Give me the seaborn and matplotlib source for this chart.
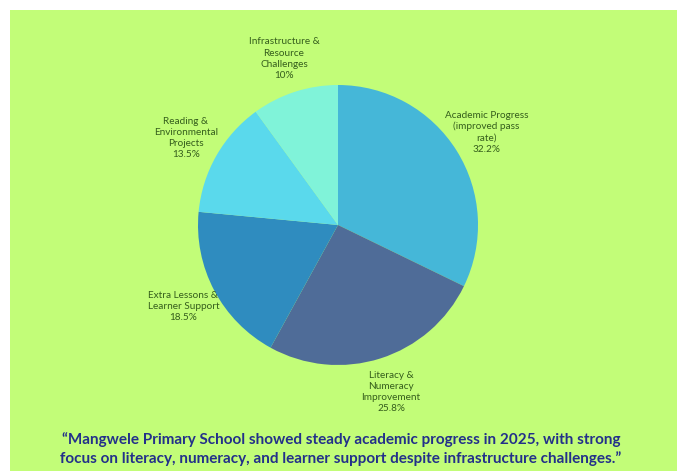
import matplotlib
matplotlib.use("Agg")
import matplotlib.pyplot as plt
import seaborn as sns
from matplotlib.patches import Rectangle

categories = [
    "Academic Progress\n(improved pass\nrate)",
    "Literacy &\nNumeracy\nImprovement",
    "Extra Lessons &\nLearner Support",
    "Reading &\nEnvironmental\nProjects",
    "Infrastructure &\nResource\nChallenges",
]
values = [32.2, 25.8, 18.5, 13.5, 10.0]
value_labels = ["32.2%", "25.8%", "18.5%", "13.5%", "10%"]
colors = ["#45b7d8", "#4f6c98", "#2f8cbf", "#5ad9ec", "#80f3d9"]

quote = ("\u201cMangwele Primary School showed steady academic progress in 2025, with strong\n"
         "focus on literacy, numeracy, and learner support despite infrastructure challenges.\u201d")

sns.set_style("white")
plt.rcParams['font.family'] = ['Lato', 'DejaVu Sans']

W, H = 681, 471
fig = plt.figure(figsize=(W / 100, H / 100), dpi=100)
fig.patch.set_facecolor("white")
fig.patches.append(Rectangle((10 / W, 0), (677 - 10) / W, (H - 10) / H,
                             transform=fig.transFigure, facecolor="#c2fd78",
                             edgecolor="none", zorder=-5))

cx, cy, r = 338, 225, 140
half = 200
ax = fig.add_axes([(cx - half) / W, (H - cy - half) / H, 2 * half / W, 2 * half / H])
ax.set_zorder(2)
ax.set_facecolor("none")
labels = [f"{c}\n{v}" for c, v in zip(categories, value_labels)]
wedges, texts = ax.pie(values, labels=labels, colors=colors, startangle=90,
                       counterclock=False, labeldistance=1.25,
                       wedgeprops=dict(linewidth=0, edgecolor="none"),
                       textprops=dict(fontsize=7.2, color="#355e1c", linespacing=1.3))
for t in texts:
    t.set_ha("center")
    t.set_va("center")
lim = half / r
ax.set_xlim(-lim, lim)
ax.set_ylim(-lim, lim)
ax.set_aspect("equal")
ax.axis("off")

fig.text(341 / W, 1 - 449.5 / H, quote, ha="center", va="center", fontsize=11,
         fontweight="bold", color="#23308a", linespacing=1.35, zorder=3)

fig.savefig("out.png", dpi=100, facecolor=fig.get_facecolor())
